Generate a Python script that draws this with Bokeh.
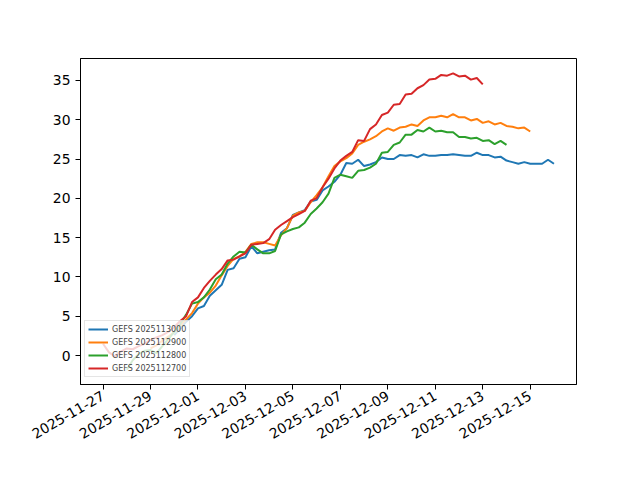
import math
import pandas as pd
from bokeh.plotting import figure
from bokeh.models import Range1d, FixedTicker, DatetimeTickFormatter, Legend, LegendItem
from bokeh.embed import file_html
from bokeh.resources import INLINE

# ---- data ----
run_labels = ["GEFS 2025113000", "GEFS 2025112900", "GEFS 2025112800", "GEFS 2025112700"]
run_inits = ["2025-11-30 00:00", "2025-11-29 00:00", "2025-11-28 00:00", "2025-11-27 00:00"]
step_hours = 6
run_colors = ["#1f77b4", "#ff7f0e", "#2ca02c", "#d62728"]

vals_2025113000 = [
    2.6, 3.4, 4.3, 5.0, 6.0, 6.3, 7.6, 8.3, 9.0, 10.9, 11.1, 12.3, 12.5, 13.9, 13.0, 13.2,
    13.4, 13.5, 15.6, 16.2, 17.9, 18.2, 18.5, 19.6, 19.8, 21.0, 21.5, 22.1, 23.0, 24.5, 24.4, 24.9,
    24.1, 24.3, 24.6, 25.2, 25.0, 25.0, 25.5, 25.4, 25.5, 25.2, 25.6, 25.4, 25.4, 25.5, 25.5, 25.6,
    25.5, 25.4, 25.4, 25.8, 25.5, 25.5, 25.2, 25.3, 24.8, 24.6, 24.4, 24.6, 24.4, 24.4, 24.4, 24.9,
    24.4,
]
vals_2025112900 = [
    0.9, 1.3, 1.9, 2.4, 3.0, 3.8, 4.6, 5.4, 6.6, 7.4, 8.0, 8.9, 10.2, 11.4, 12.3, 12.6,
    13.2, 14.2, 14.4, 14.4, 14.2, 14.0, 15.3, 16.2, 17.8, 18.2, 18.4, 19.5, 20.4, 21.4, 22.8, 24.1,
    24.7, 25.1, 25.7, 26.8, 27.2, 27.5, 27.9, 28.5, 28.9, 28.6, 29.0, 29.1, 29.4, 29.2, 29.9, 30.3,
    30.3, 30.5, 30.3, 30.7, 30.3, 30.3, 29.9, 30.1, 29.6, 29.8, 29.4, 29.6, 29.2, 29.1, 28.9, 29.0,
    28.5,
]
vals_2025112800 = [
    -1.8, -0.6, 0.2, 0.6, 0.7, 0.3, 1.2, 2.1, 3.0, 4.0, 5.2, 6.6, 6.8, 7.4, 8.4, 9.7,
    10.3, 11.7, 12.6, 13.2, 13.1, 14.1, 13.5, 13.0, 13.0, 13.3, 15.4, 15.8, 16.1, 16.3, 16.9, 18.0,
    18.7, 19.5, 20.6, 22.6, 23.0, 22.8, 22.6, 23.5, 23.6, 23.9, 24.4, 25.8, 25.9, 26.8, 27.1, 28.1,
    28.1, 28.7, 28.5, 29.0, 28.5, 28.6, 28.4, 28.4, 27.8, 27.8, 27.6, 27.7, 27.3, 27.4, 26.9, 27.3,
    26.8,
]
vals_2025112700 = [
    1.5, 0.4, -0.1, 0.5, 0.9, 0.8, 1.2, 1.5, 2.0, 2.3, 2.6, 3.0, 3.6, 4.4, 5.0, 6.8,
    7.4, 8.6, 9.5, 10.3, 11.0, 12.1, 12.2, 12.6, 13.0, 14.1, 14.2, 14.3, 14.8, 16.0, 16.6, 17.1,
    17.6, 18.0, 18.4, 19.7, 20.0, 21.4, 22.5, 23.8, 24.8, 25.4, 25.9, 27.4, 27.3, 28.8, 29.4, 30.6,
    30.9, 31.9, 32.0, 33.2, 33.3, 34.0, 34.4, 35.1, 35.2, 35.7, 35.6, 35.9, 35.5, 35.6, 35.1, 35.3,
    34.5,
]
run_values = [vals_2025113000, vals_2025112900, vals_2025112800, vals_2025112700]

x_tick_labels = ["2025-11-27", "2025-11-29", "2025-12-01", "2025-12-03", "2025-12-05",
                 "2025-12-07", "2025-12-09", "2025-12-11", "2025-12-13", "2025-12-15"]
y_ticks = [0, 5, 10, 15, 20, 25, 30, 35]

# ---- build ----
run_times = [pd.date_range(pd.Timestamp(init), periods=len(v), freq=f"{step_hours}h")
             for init, v in zip(run_inits, run_values)]

all_t = [t for ts in run_times for t in ts]
all_v = [v for vs in run_values for v in vs]
tmin, tmax = min(all_t), max(all_t)
vmin, vmax = min(all_v), max(all_v)
tpad = (tmax - tmin) * 0.05
vpad = (vmax - vmin) * 0.05

FONT = "DejaVu Sans"

p = figure(
    x_axis_type="datetime",
    frame_width=496, frame_height=326,
    min_border_left=80, min_border_right=56, min_border_top=58, min_border_bottom=88,
    output_backend="svg", toolbar_location=None,
    x_range=Range1d(tmin - tpad, tmax + tpad),
    y_range=Range1d(vmin - vpad, vmax + vpad),
)
p.background_fill_color = "white"
p.border_fill_color = "white"
p.outline_line_color = "black"
p.outline_line_width = 1
p.xgrid.visible = False
p.ygrid.visible = False

renderers = []
for ts, vs, c in zip(run_times, run_values, run_colors):
    r = p.line(ts, vs, line_color=c, line_width=2)
    renderers.append(r)

tick_ms = [pd.Timestamp(s).value / 1e6 for s in x_tick_labels]
p.xaxis.ticker = FixedTicker(ticks=tick_ms)
fmt = "%Y-%m-%d"
p.xaxis.formatter = DatetimeTickFormatter(
    milliseconds=fmt, seconds=fmt, minsec=fmt, minutes=fmt, hourmin=fmt,
    hours=fmt, days=fmt, months=fmt, years=fmt)
p.xaxis.major_label_orientation = math.pi / 6
p.yaxis.ticker = FixedTicker(ticks=y_ticks)

for ax in (p.xaxis[0], p.yaxis[0]):
    ax.axis_line_color = "black"
    ax.axis_line_width = 1
    ax.major_tick_line_color = "black"
    ax.major_tick_in = 0
    ax.major_tick_out = 5
    ax.minor_tick_line_color = None
    ax.major_label_text_font = FONT
    ax.major_label_text_font_size = "13.9px"
    ax.major_label_text_color = "black"
    ax.major_label_standoff = 5

legend = Legend(
    items=[LegendItem(label=lab, renderers=[r]) for lab, r in zip(run_labels, renderers)],
    location=(4, 7), margin=0,
    label_text_font=FONT, label_text_font_size="8px",
    glyph_width=20, glyph_height=10, label_height=10, label_standoff=4,
    spacing=3, padding=3,
    background_fill_alpha=0.8, border_line_color="#cccccc",
)
p.add_layout(legend)

open("out.html", "w").write(file_html(p, INLINE))
